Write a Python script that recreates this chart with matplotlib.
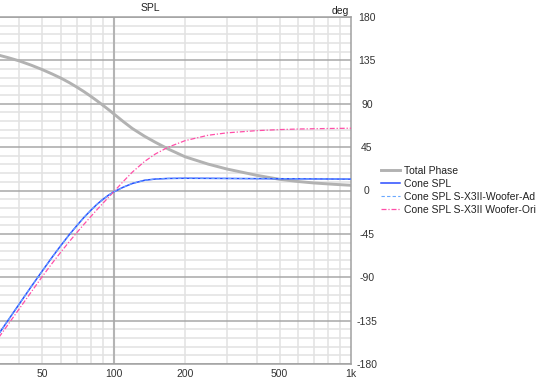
"""Phase / SPL overlay chart."""
import matplotlib
matplotlib.use("Agg")
import matplotlib.pyplot as plt
from matplotlib.ticker import FixedLocator, NullFormatter

# frequency points (Hz)
freq = [32.6, 36, 40, 45, 50, 55, 60, 65, 70, 75, 80, 85, 90, 95, 100,
        110, 120, 135, 150, 170, 200, 250, 300, 400, 500, 600, 700, 850, 1000]

# values in the right-hand "deg" scale
total_phase = [140.6, 137.8, 134.5, 130.0, 125.5, 121.0, 116.6, 112.0, 107.3, 102.6,
               97.9, 93.2, 88.6, 84.1, 79.7, 71.4, 64.3, 56.3, 50.0, 43.0,
               35.0, 27.4, 22.3, 15.8, 11.6, 9.3, 7.8, 6.4, 5.4]
cone_spl = [-150.0, -134.4, -118.0, -99.7, -83.7, -69.5, -57.0, -46.0, -36.5, -28.0,
            -20.8, -14.5, -9.3, -5.0, -1.5, 3.5, 7.3, 10.6, 11.9, 12.5,
            12.7, 12.6, 12.5, 12.3, 12.2, 12.1, 12.0, 11.9, 11.8]
cone_spl_orig = [-153.6, -138.8, -123.0, -105.3, -89.5, -75.8, -63.8, -53.2, -43.7, -35.1,
                 -27.3, -20.1, -13.5, -7.3, -1.5, 9.5, 19.1, 30.1, 37.9, 45.0,
                 51.7, 57.3, 59.8, 62.1, 63.2, 63.8, 64.1, 64.4, 64.6]

labels = ["Total Phase", "Cone SPL", "Cone SPL S-X3II-Woofer-Ad", "Cone SPL S-X3II Woofer-Ori"]
x_ticks = [50, 100, 200, 500, 1000]
x_tick_labels = ["50", "100", "200", "500", "1k"]
y_ticks = [180, 135, 90, 45, 0, -45, -90, -135, -180]

plt.rcParams["font.family"] = ["Liberation Sans", "DejaVu Sans"]
plt.rcParams["font.size"] = 7.5
plt.rcParams["axes.unicode_minus"] = False

W, H = 538, 382
fig = plt.figure(figsize=(W / 100, H / 100), dpi=100)
ax = fig.add_axes([-2 / W, 1 - 364 / H, 353 / W, 347 / H])

ax.set_xscale("log")
ax.set_xlim(32.6, 1000)
ax.set_ylim(-180, 180)

# grid
minor_x = [40, 50, 60, 70, 80, 90, 200, 300, 400, 500, 600, 700, 800, 900]
for f in minor_x:
    ax.axvline(f, color="#e2e2e2", lw=1.1, zorder=0)
ax.axvline(100, color="#b4b4b4", lw=1.5, zorder=0.5)
for d in range(-180, 181, 9):
    if d % 45 == 0:
        ax.axhline(d, color="#a8a8a8", lw=1.1, zorder=0.5)
    else:
        ax.axhline(d, color="#e2e2e2", lw=1.1, zorder=0)

ax.plot(freq, total_phase, color="#b2b2b2", lw=2.1, label=labels[0], zorder=2)
ax.plot(freq, cone_spl, color="#2a4cff", lw=1.1, label=labels[1], zorder=3)
ax.plot(freq, cone_spl, color="#6aa8ff", lw=0.8, ls=(0, (3, 2)), label=labels[2], zorder=4)
ax.plot(freq, cone_spl_orig, color="#ff4fa8", lw=0.9, ls=(0, (4, 1.5, 1, 1.5)), label=labels[3], zorder=3)

ax.xaxis.set_major_locator(FixedLocator(x_ticks))
ax.xaxis.set_minor_formatter(NullFormatter())
ax.xaxis.set_minor_locator(FixedLocator([]))
ax.set_xticklabels(x_tick_labels)
ax.tick_params(axis="x", length=0, pad=3.5, colors="#333333")

ax.yaxis.tick_right()
ax.set_yticks(y_ticks)
ax.tick_params(axis="y", length=0, pad=11.5, colors="#333333")
for lab in ax.get_yticklabels():
    lab.set_horizontalalignment("center")

for side in ["top", "right", "bottom"]:
    ax.spines[side].set_color("#a0a0a0")
    ax.spines[side].set_linewidth(1.1)
ax.spines["left"].set_visible(False)

fig.text(150 / W, 1 - 8 / H, "SPL", ha="center", va="center", fontsize=7.5, color="#222222")
fig.text(340 / W, 1 - 11 / H, "deg", ha="center", va="center", fontsize=7.5, color="#222222")

leg = fig.legend(loc="upper left", bbox_to_anchor=(381 / W, 1 - 166 / H), frameon=False,
                 borderpad=0, borderaxespad=0, handlelength=1.85, handletextpad=0.4,
                 labelspacing=0.28, fontsize=7.5)
for t in leg.get_texts():
    t.set_color("#222222")

fig.savefig("out.png", dpi=100)
